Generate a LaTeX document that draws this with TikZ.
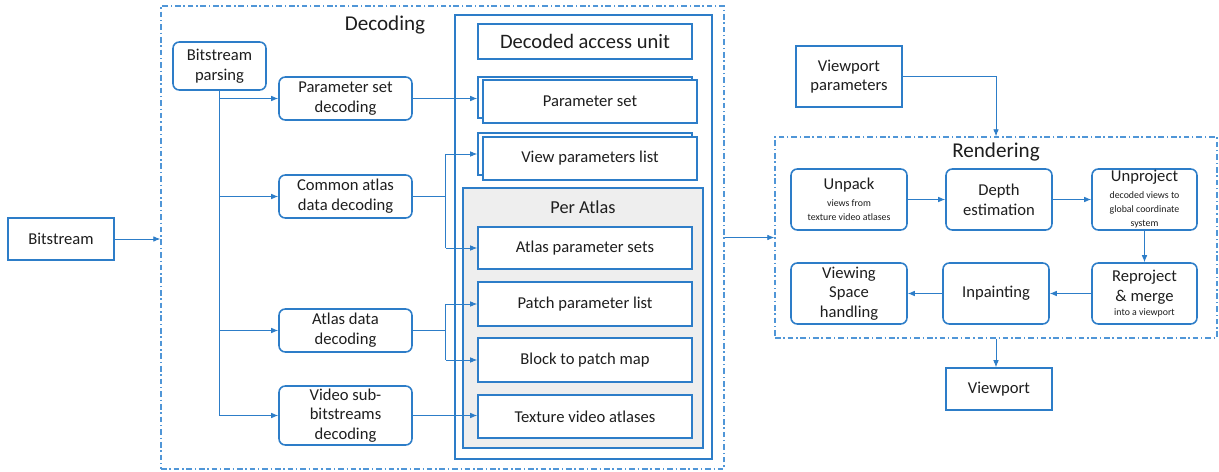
\documentclass[tikz,border=0pt]{standalone}
\usepackage{fontspec}
\setmainfont{Carlito}
\usetikzlibrary{arrows.meta}
\definecolor{bl}{RGB}{45,125,200}
\definecolor{dbl}{RGB}{80,150,215}
\definecolor{pa}{RGB}{238,238,238}
\definecolor{tx}{RGB}{30,30,30}
\newcommand{\sml}{\fontsize{7}{8}\selectfont}
\tikzset{
  base/.style={draw=bl, line width=1.1pt, fill=white, text=tx, align=center, inner sep=1pt,
     font=\fontsize{11.8}{14}\selectfont},
  rbox/.style={base, rounded corners=4.5pt},
  sbox/.style={base},
  dashbox/.style={draw=dbl, line width=1pt, dash pattern=on 4pt off 2pt on 1pt off 2pt},
  arr/.style={draw=bl, line width=0.6pt, -{Latex[length=5pt,width=4pt]}},
  ln/.style={draw=bl, line width=0.6pt},
  title/.style={text=tx, font=\fontsize{15}{18}\selectfont}
}
\begin{document}
\begin{tikzpicture}[x=0.025cm,y=-0.025cm]
\useasboundingbox (0,0) rectangle (1219,472);
% containers
\node[dashbox, minimum width=563*0.025cm, minimum height=463*0.025cm, inner sep=0] (dec) at (442.5,237.5) {};
\node[title] (dectitle) at (385,25) {Decoding};
\node[draw=bl, line width=1pt, fill=white, minimum width=257*0.025cm, minimum height=444*0.025cm, inner sep=0] (dau) at (583.5,237) {};
\node[draw=bl, line width=1pt, fill=pa, minimum width=240*0.025cm, minimum height=260*0.025cm, inner sep=0] (peratlas) at (583,318) {};
\node[text=tx, font=\fontsize{13}{15}\selectfont] (patitle) at (583,207) {Per Atlas};
\node[dashbox, minimum width=442*0.025cm, minimum height=201*0.025cm, inner sep=0] (rend) at (996,237.5) {};
\node[title] (rendtitle) at (996,152) {Rendering};
% left
\node[sbox, minimum width=106*0.025cm, minimum height=42*0.025cm] (bitstream) at (61,239) {Bitstream};
\node[rbox, minimum width=93*0.025cm, minimum height=48*0.025cm] (bparse) at (219.5,66) {Bitstream\\parsing};
\node[rbox, minimum width=133*0.025cm, minimum height=43*0.025cm] (psd) at (345.5,98.5) {Parameter set\\decoding};
\node[rbox, minimum width=133*0.025cm, minimum height=43*0.025cm] (cad) at (345.5,196.5) {Common atlas\\data decoding};
\node[rbox, minimum width=133*0.025cm, minimum height=43*0.025cm] (adc) at (345.5,330.5) {Atlas data\\decoding};
\node[rbox, minimum width=133*0.025cm, minimum height=59*0.025cm] (vsd) at (345.5,415.5) {Video sub-\\bitstreams\\decoding};
% decoded access unit
\node[sbox, minimum width=214*0.025cm, minimum height=35*0.025cm, font=\fontsize{14.6}{17}\selectfont] (dautitle) at (585,41.5) {Decoded access unit};
\node[sbox, minimum width=214*0.025cm, minimum height=41*0.025cm] (psb) at (585,97.5) {};
\node[sbox, minimum width=214*0.025cm, minimum height=43*0.025cm] (ps) at (590,101.5) {Parameter set};
\node[sbox, minimum width=214*0.025cm, minimum height=42*0.025cm] (vplb) at (585,154) {};
\node[sbox, minimum width=214*0.025cm, minimum height=43*0.025cm] (vpl) at (590,158.5) {View parameters list};
\node[sbox, minimum width=214*0.025cm, minimum height=42*0.025cm] (aps) at (585,248) {Atlas parameter sets};
\node[sbox, minimum width=214*0.025cm, minimum height=44*0.025cm] (ppl) at (585,304) {Patch parameter list};
\node[sbox, minimum width=214*0.025cm, minimum height=44*0.025cm] (bpm) at (585,360) {Block to patch map};
\node[sbox, minimum width=214*0.025cm, minimum height=43*0.025cm] (tva) at (585,416.5) {Texture video atlases};
% rendering side
\node[sbox, minimum width=106*0.025cm, minimum height=61*0.025cm] (vpp) at (849,76.5) {Viewport\\parameters};
\node[rbox, minimum width=116*0.025cm, minimum height=61*0.025cm] (unpack) at (849,199.5) {Unpack\\[-2pt]{\sml views from}\\[-4pt]{\sml texture video atlases}};
\node[rbox, minimum width=106*0.025cm, minimum height=61*0.025cm] (depth) at (999,199.5) {Depth\\estimation};
\node[rbox, minimum width=105*0.025cm, minimum height=61*0.025cm] (unproj) at (1144.5,199.5) {Unproject\\[-2pt]{\sml decoded views to}\\[-4pt]{\sml global coordinate}\\[-4pt]{\sml system}};
\node[rbox, minimum width=105*0.025cm, minimum height=61*0.025cm] (reproj) at (1144.5,293.5) {Reproject\\\& merge\\[-4pt]{\sml into a viewport}};
\node[rbox, minimum width=106*0.025cm, minimum height=61*0.025cm] (inpaint) at (996,293.5) {Inpainting};
\node[rbox, minimum width=116*0.025cm, minimum height=61*0.025cm] (vsh) at (849,293.5) {Viewing\\Space\\handling};
\node[sbox, minimum width=106*0.025cm, minimum height=42*0.025cm] (viewport) at (999,389) {Viewport};
% connectors
\draw[arr] (bitstream.east) -- (bitstream.east -| dec.west);
\draw[ln] (bparse.south) -- (bparse.south |- vsd.west);
\draw[arr] (bparse.south |- psd.west) -- (psd.west);
\draw[arr] (bparse.south |- cad.west) -- (cad.west);
\draw[arr] (bparse.south |- adc.west) -- (adc.west);
\draw[arr] (bparse.south |- vsd.west) -- (vsd.west);
\draw[arr] (psd.east) -- (psd.east -| psb.west);
\draw[ln] (cad.east) -- ++(33,0) coordinate (j1);
\draw[ln] (j1 |- vplb.west) -- (j1 |- aps.west);
\draw[arr] (j1 |- vplb.west) -- (vplb.west);
\draw[arr] (j1 |- aps.west) -- (aps.west);
\draw[ln] (adc.east) -- ++(33,0) coordinate (j2);
\draw[ln] (j2 |- ppl.west) -- (j2 |- bpm.west);
\draw[arr] (j2 |- ppl.west) -- (ppl.west);
\draw[arr] (j2 |- bpm.west) -- (bpm.west);
\draw[arr] (vsd.east) -- (vsd.east -| tva.west);
\draw[arr] (dec.east) -- (rend.west);
\draw[arr] (vpp.east) -| (rend.north);
\draw[arr] (unpack) -- (depth);
\draw[arr] (depth) -- (unproj);
\draw[arr] (unproj.south) -- (reproj.north);
\draw[arr] (reproj) -- (inpaint);
\draw[arr] (inpaint) -- (vsh);
\draw[arr] (rend.south) -- (rend.south |- viewport.north);
\end{tikzpicture}
\end{document}
